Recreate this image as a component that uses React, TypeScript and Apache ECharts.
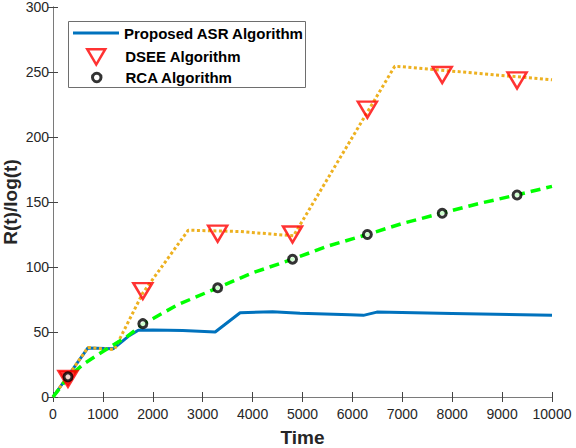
import React, { useEffect, useRef } from "react";
import * as echarts from "echarts";

// ---- data ----
const asrT = [0, 700, 1210, 1510, 1710, 2000, 2600, 3250, 3750, 4400, 4950, 5950, 6220, 6490, 8000, 10000];
const asrV = [0, 37.7, 37.2, 46.7, 51.3, 51.6, 51.2, 50, 64.8, 65.5, 64.4, 63.3, 62.8, 65.3, 64.3, 62.8];

const dseeLineT = [0, 700, 1230, 1800, 2710, 3750, 4820, 6850, 10000];
const dseeLineV = [0, 38, 36.5, 80, 128.3, 127.3, 124, 254.5, 244];

const markT = [300, 1800, 3300, 4800, 6300, 7800, 9300];
const dseeMarkV = [14, 81.5, 125.6, 125, 221, 247.7, 243.5];
const rcaMarkV = [15.5, 56.4, 84, 106, 125, 141.3, 155.4];

const rcaLineT = [0, 300, 600, 1000, 1500, 1800, 2500, 3300, 4000, 4800, 5500, 6300, 7000, 7800, 8500, 9300, 10000];
const rcaLineV = [0, 15, 25, 35, 47, 56, 71, 84, 95.5, 106, 116, 125, 133.5, 141.5, 148.5, 155.5, 162];

const names = ["Proposed ASR Algorithm", "DSEE Algorithm", "RCA Algorithm"];

const FONT = "'Liberation Sans', Arial, Helvetica, sans-serif";
const AXIS_GRAY = "#7a7a7a";
const LABEL = "#262626";

function zip(a: number[], b: number[]) {
  return a.map((t, i) => [t, b[i]]);
}

export default function App() {
  const ref = useRef<HTMLDivElement>(null);
  useEffect(() => {
    if (!ref.current) return;
    const chart = echarts.init(ref.current, undefined, { renderer: "svg" });
    const axisCommon = {
      axisLine: { show: true, lineStyle: { color: AXIS_GRAY, width: 1 } },
      axisTick: { show: true, inside: true, length: 5, lineStyle: { color: "#444", width: 1 } },
      splitLine: { show: false },
    };
    const legendText = { fontFamily: FONT, fontSize: 15, fontWeight: "bold", color: "#000", lineHeight: 16 };
    chart.setOption({
      animation: false,
      backgroundColor: "#fff",
      grid: { left: 53, right: 24, top: 7, bottom: 51, containLabel: false, outerBoundsMode: "none" },
      xAxis: [
        {
          type: "value",
          min: 0,
          max: 10000,
          interval: 1000,
          position: "bottom",
          name: "Time",
          nameLocation: "middle",
          nameGap: 31,
          nameMoveOverlap: false,
          nameTextStyle: { fontFamily: FONT, fontSize: 19, fontWeight: "bold", color: LABEL },
          ...axisCommon,
          axisLabel: { fontFamily: FONT, fontSize: 14, color: LABEL, margin: 10, formatter: (v: number) => String(v) },
        },
        {
          type: "value",
          min: 0,
          max: 10000,
          interval: 1000,
          position: "top",
          ...axisCommon,
          axisLabel: { show: false },
        },
      ],
      yAxis: [
        {
          type: "value",
          min: 0,
          max: 300,
          interval: 50,
          position: "left",
          name: "R(t)/log(t)",
          nameLocation: "middle",
          nameGap: 35,
          nameMoveOverlap: false,
          nameRotate: 90,
          nameTextStyle: { fontFamily: FONT, fontSize: 19, lineHeight: 16, fontWeight: "bold", color: LABEL },
          ...axisCommon,
          axisLabel: {
            fontFamily: FONT,
            fontSize: 14,
            lineHeight: 12,
            color: LABEL,
            margin: 4,
            formatter: (v: number) => String(v),
          },
        },
        {
          type: "value",
          min: 0,
          max: 300,
          interval: 50,
          position: "right",
          ...axisCommon,
          axisLabel: { show: false },
        },
      ],
      graphic: [
        {
          type: "rect",
          z: 3,
          shape: { x: 68.5, y: 21.5, width: 237, height: 66 },
          style: { fill: "#fff", stroke: "#6e6e6e", lineWidth: 1 },
        },
      ],
      legend: [
        {
          data: [{ name: names[0], icon: "rect" }],
          orient: "vertical",
          left: 73,
          top: 25,
          padding: 0,
          itemWidth: 46,
          itemHeight: 3,
          z: 5,
          itemStyle: { color: "#0072BD", borderWidth: 0 },
          textStyle: { ...legendText, padding: [0, 0, 0, 0] },
        },
        {
          data: [{ name: names[1], icon: "path://M0,0 L20,0 L10,17 Z" }],
          orient: "vertical",
          left: 86,
          top: 48,
          padding: 0,
          itemWidth: 18,
          itemHeight: 16,
          z: 5,
          itemStyle: { color: "rgba(255,255,255,0)", borderColor: "#FF0000", borderWidth: 2.5 },
          textStyle: { ...legendText, padding: [0, 0, 0, 15] },
        },
        {
          data: [{ name: names[2], icon: "circle" }],
          orient: "vertical",
          left: 91,
          top: 69.5,
          padding: 0,
          itemWidth: 8.5,
          itemHeight: 8.5,
          z: 5,
          itemStyle: { color: "#fff", borderColor: "#000", borderWidth: 3 },
          textStyle: { ...legendText, padding: [0, 0, 0, 19.5] },
        },
      ],
      series: [
        {
          name: names[0],
          type: "line",
          data: zip(asrT, asrV),
          symbol: "none",
          lineStyle: { color: "#0072BD", width: 3 },
          itemStyle: { color: "#0072BD" },
          z: 2,
        },
        {
          name: "DSEE line",
          type: "line",
          data: zip(dseeLineT, dseeLineV),
          symbol: "none",
          lineStyle: { color: "#EDB120", width: 3, type: [3, 2.5], cap: "butt" },
          z: 3,
        },
        {
          name: "RCA line",
          type: "line",
          data: zip(rcaLineT, rcaLineV),
          symbol: "none",
          lineStyle: { color: "#00FF00", width: 3.5, type: [10, 6], cap: "butt" },
          z: 3,
        },
        {
          name: names[1],
          type: "scatter",
          data: markT.map((t, i) =>
            i === 0
              ? { value: [t, dseeMarkV[i]], itemStyle: { color: "#FF0000" } }
              : { value: [t, dseeMarkV[i]] }
          ),
          symbol: "triangle",
          symbolRotate: 180,
          symbolSize: [19, 16],
          itemStyle: { color: "rgba(255,255,255,0)", borderColor: "#FF0000", borderWidth: 2.5 },
          z: 4,
        },
        {
          name: names[2],
          type: "scatter",
          data: zip(markT, rcaMarkV),
          symbol: "circle",
          symbolSize: 8,
          itemStyle: { color: "#fff", borderColor: "#000", borderWidth: 3 },
          z: 5,
        },
      ],
    });
    return () => chart.dispose();
  }, []);
  return (
    <div
      ref={ref}
      style={{ position: "absolute", left: 0, top: 0, width: 576, height: 448, background: "#fff" }}
    />
  );
}
